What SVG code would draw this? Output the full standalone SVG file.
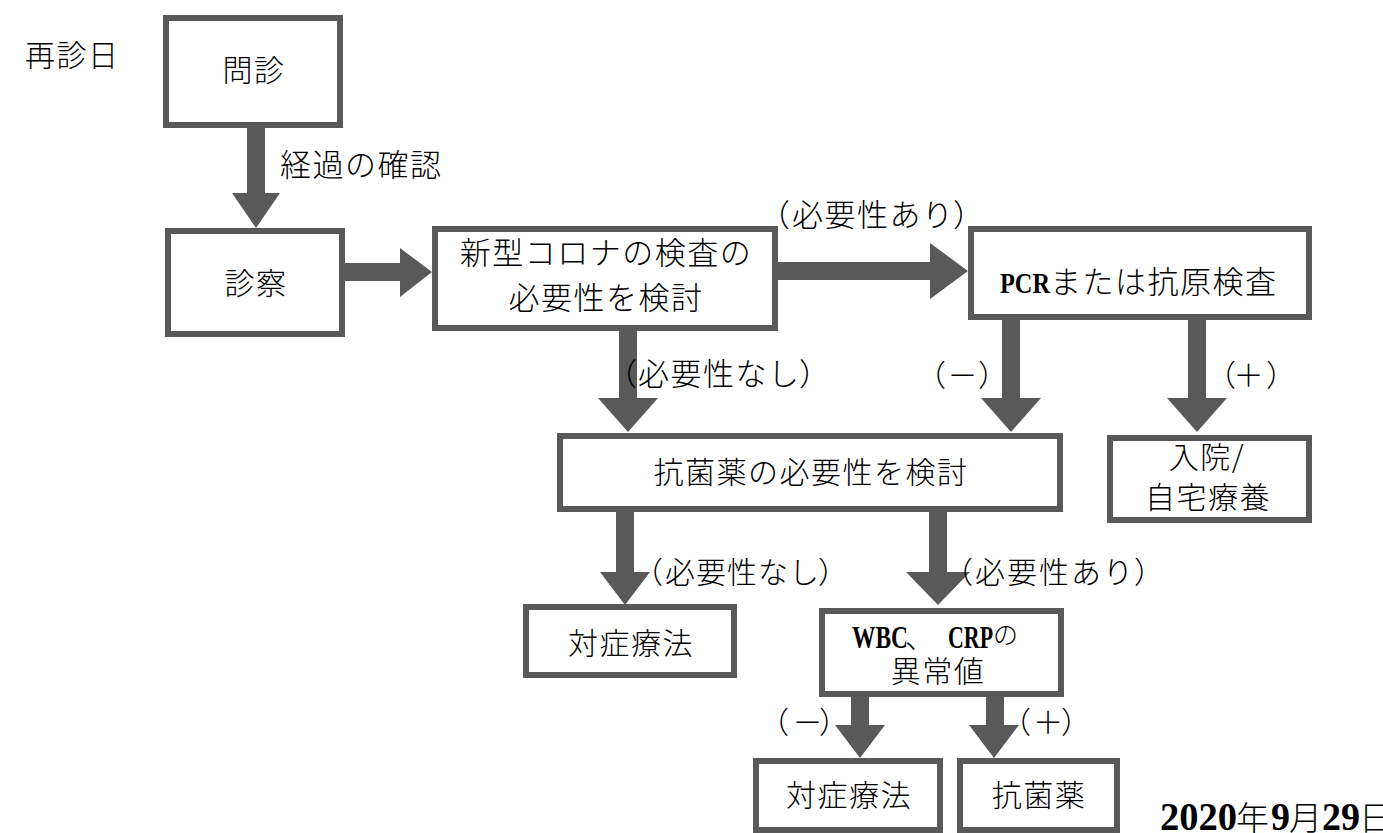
<svg xmlns="http://www.w3.org/2000/svg" width="1383" height="833" viewBox="0 0 1383 833">
<style>
.box{fill:#fff;stroke:#595959;stroke-width:6}
.arr{fill:#595959}
.t{font-family:"Noto Sans CJK JP Light","Noto Sans CJK JP","Noto Sans",sans-serif;font-size:30px;font-weight:300;fill:#000;letter-spacing:1.5px;text-spacing-trim:space-all}
.l{letter-spacing:0}
.c{text-anchor:middle}
.w{font-size:31px}
.b{font-family:"Liberation Serif",serif;font-weight:bold;letter-spacing:0}
</style>
<rect width="1383" height="833" fill="#fff"/>
<text class="t" x="25" y="66">再診日</text>
<g id="connectors">
<polygon class="arr" points="247,127 265,127 265,193 280,193 256,228 232,193 247,193"/>
<polygon class="arr" points="345,263 400,263 400,248 432,272 400,297 400,281 345,281"/>
<polygon class="arr" points="778,262 930,262 930,243 968,271 930,299 930,280 778,280"/>
<polygon class="arr" points="619,331 637,331 637,398 658,398 628,432 598,398 619,398"/>
<polygon class="arr" points="1002,320 1020,320 1020,398 1041,398 1011,432 981,398 1002,398"/>
<polygon class="arr" points="1188,320 1206,320 1206,398 1227,398 1197,432 1167,398 1188,398"/>
<polygon class="arr" points="616,512 634,512 634,572 650,572 625,605 600,572 616,572"/>
<polygon class="arr" points="929,512 947,512 947,572 970,572 938,605 906,572 929,572"/>
<polygon class="arr" points="851,697 869,697 869,725 885,725 860,758 835,725 851,725"/>
<polygon class="arr" points="986,697 1004,697 1004,725 1019,725 994,758 969,725 986,725"/>
<text class="t w" x="280" y="176">経過の確認</text>
<text class="t l w" x="759 792 824.5 857 889.5 922 953" y="226">（必要性あり）</text>
<text class="t l w" x="606 638 670.5 703 735.5 768 799" y="385">（必要性なし）</text>
<text class="t l" x="916 947.5 978" y="386">（－）</text>
<text class="t l" x="1206 1233.5 1266" y="386">（＋）</text>
<text class="t l" x="633 665 696 727 758 789 818" y="583">（必要性なし）</text>
<text class="t l" x="943 975 1007 1039 1071 1103 1134" y="583">（必要性あり）</text>
<text class="t l" x="759 792.5 819" y="733">（－）</text>
<text class="t l" x="1001 1033 1061" y="733">（＋）</text>
</g>
<g id="n1"><rect class="box" x="166" y="18" width="174" height="107"/><text class="t c" x="254" y="81">問診</text></g>
<g id="n2"><rect class="box" x="168" y="231" width="174" height="103"/><text class="t c" x="256" y="294">診察</text></g>
<g id="n3"><rect class="box" x="435" y="229" width="340" height="99"/><text class="t c w" x="606" y="264">新型コロナの検査の</text><text class="t c w" x="606" y="309">必要性を検討</text></g>
<g id="n4"><rect class="box" x="971" y="229" width="338" height="88"/><text class="t w" x="1000" y="293"><tspan class="b" font-size="30" textLength="50" lengthAdjust="spacingAndGlyphs">PCR</tspan>または抗原検査</text></g>
<g id="n5"><rect class="box" x="560" y="436" width="500" height="73"/><text class="t c" x="811" y="483">抗菌薬の必要性を検討</text></g>
<g id="n6"><rect class="box" x="1110" y="438" width="199" height="82"/><text class="t c" x="1207" y="468">入院/</text><text class="t c" x="1208" y="508">自宅療養</text></g>
<g id="n7"><rect class="box" x="526" y="607" width="208" height="68"/><text class="t c" x="631" y="654">対症療法</text></g>
<g id="n8"><rect class="box" x="822" y="611" width="239" height="83"/><text class="t l" y="648"><tspan class="b" x="852" font-size="32" textLength="56" lengthAdjust="spacingAndGlyphs">WBC</tspan><tspan x="905">、</tspan><tspan class="b" x="948" font-size="32" textLength="45" lengthAdjust="spacingAndGlyphs">CRP</tspan><tspan x="993" y="644" font-size="25">の</tspan></text><text class="t c" x="938" y="682">異常値</text></g>
<g id="n9"><rect class="box" x="756" y="761" width="184" height="69"/><text class="t c" x="849" y="806">対症療法</text></g>
<g id="n10"><rect class="box" x="960" y="761" width="157" height="69"/><text class="t c" x="1039" y="806">抗菌薬</text></g>
<text class="t l" y="830"><tspan class="b" x="1160" font-size="40" textLength="77" lengthAdjust="spacingAndGlyphs">2020</tspan><tspan x="1236" font-size="33">年</tspan><tspan class="b" x="1271" font-size="40" textLength="19" lengthAdjust="spacingAndGlyphs">9</tspan><tspan x="1289" font-size="33">月</tspan><tspan class="b" x="1322" font-size="40" textLength="38" lengthAdjust="spacingAndGlyphs">29</tspan><tspan x="1359" font-size="33">日</tspan></text>
</svg>
